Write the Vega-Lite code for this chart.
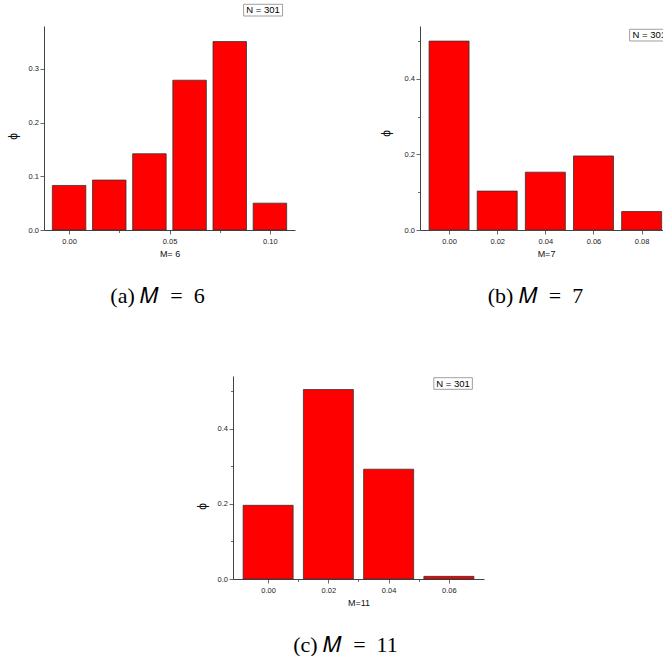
{
  "$schema": "https://vega.github.io/schema/vega-lite/v6.json",
  "background": "white",
  "padding": {"left": 6, "top": 3, "right": 0, "bottom": 0},
  "autosize": {"type": "pad"},
  "bounds": "flush",
  "spacing": 350,
  "datasets": {
    "m6": [
      {"m": 0.00, "phi": 0.083},
      {"m": 0.02, "phi": 0.093},
      {"m": 0.04, "phi": 0.142},
      {"m": 0.06, "phi": 0.279},
      {"m": 0.08, "phi": 0.351},
      {"m": 0.10, "phi": 0.050}
    ],
    "m7": [
      {"m": 0.00, "phi": 0.500},
      {"m": 0.02, "phi": 0.103},
      {"m": 0.04, "phi": 0.153},
      {"m": 0.06, "phi": 0.196},
      {"m": 0.08, "phi": 0.049}
    ],
    "m11": [
      {"m": 0.00, "phi": 0.196},
      {"m": 0.02, "phi": 0.504},
      {"m": 0.04, "phi": 0.292},
      {"m": 0.06, "phi": 0.007}
    ],
    "legend": [{"label": "N = 301"}]
  },
  "vconcat": [
    {
      "bounds": "flush",
      "spacing": 125,
      "hconcat": [
        {
          "width": 251,
          "height": 204,
          "title": {"text": "(a) 𝑀\u2002=\u20026", "orient": "bottom", "anchor": "middle", "dx": -12, "offset": 27},
          "layer": [
            {
              "data": {"name": "m6"},
              "mark": {"type": "bar", "size": 33.5, "fill": "#ff0000", "stroke": "#333333", "strokeWidth": 0.8},
              "encoding": {
                "x": {
                  "field": "m", "type": "quantitative",
                  "scale": {"domain": [-0.01, 0.11], "nice": false, "zero": false},
                  "axis": {
                    "title": "M= 6",
                    "values": [0, 0.025, 0.05, 0.075, 0.1],
                    "labelExpr": "abs(round(datum.value*20)-datum.value*20)<1e-6 ? format(datum.value, '.2f') : ''",
                    "tickSize": {"expr": "abs(round(datum.value*20)-datum.value*20)<1e-6 ? 4 : 2.5"}
                  }
                },
                "y": {
                  "field": "phi", "type": "quantitative",
                  "scale": {"domain": [0, 0.38], "nice": false},
                  "axis": {
                    "title": "ϕ",
                    "titleY": 110,
                    "values": [0, 0.05, 0.1, 0.15, 0.2, 0.25, 0.3, 0.35],
                    "labelExpr": "abs(round(datum.value*10)-datum.value*10)<1e-6 ? format(datum.value, '.1f') : ''",
                    "tickSize": {"expr": "abs(round(datum.value*10)-datum.value*10)<1e-6 ? 4 : 2.5"}
                  }
                }
              }
            },
            {
              "data": {"name": "legend"},
              "mark": {"type": "rect", "fill": "white", "stroke": "#888888", "strokeWidth": 0.8},
              "encoding": {
                "x": {"datum": 0.0869, "type": "quantitative"},
                "x2": {"datum": 0.1063},
                "y": {"datum": 0.4204, "type": "quantitative"},
                "y2": {"datum": 0.3986}
              }
            },
            {
              "data": {"name": "legend"},
              "mark": {"type": "text", "font": "Liberation Sans", "fontSize": 9.5, "color": "#000000", "align": "center", "baseline": "middle"},
              "encoding": {
                "x": {"datum": 0.0966, "type": "quantitative"},
                "y": {"datum": 0.4095, "type": "quantitative"},
                "text": {"field": "label"}
              }
            }
          ]
        },
        {
          "width": 243,
          "height": 204,
          "title": {"text": "(b) 𝑀\u2002=\u20027", "orient": "bottom", "anchor": "middle", "dx": -6, "offset": 27},
          "layer": [
            {
              "data": {"name": "m7"},
              "mark": {"type": "bar", "size": 40, "fill": "#ff0000", "stroke": "#333333", "strokeWidth": 0.8, "clip": true},
              "encoding": {
                "x": {
                  "field": "m", "type": "quantitative",
                  "scale": {"domain": [-0.01, 0.0868], "nice": false, "zero": false},
                  "axis": {
                    "title": "M=7",
                    "titleX": 126,
                    "values": [0, 0.01, 0.02, 0.03, 0.04, 0.05, 0.06, 0.07, 0.08],
                    "labelExpr": "abs(round(datum.value*50)-datum.value*50)<1e-6 ? format(datum.value, '.2f') : ''",
                    "tickSize": {"expr": "abs(round(datum.value*50)-datum.value*50)<1e-6 ? 4 : 2.5"}
                  }
                },
                "y": {
                  "field": "phi", "type": "quantitative",
                  "scale": {"domain": [0, 0.54], "nice": false},
                  "axis": {
                    "title": "ϕ",
                    "titleY": 107,
                    "titlePadding": 12,
                    "values": [0, 0.1, 0.2, 0.3, 0.4, 0.5],
                    "labelExpr": "abs(round(datum.value*5)-datum.value*5)<1e-6 ? format(datum.value, '.1f') : ''",
                    "tickSize": {"expr": "abs(round(datum.value*5)-datum.value*5)<1e-6 ? 4 : 2.5"}
                  }
                }
              }
            },
            {
              "data": {"name": "legend"},
              "mark": {"type": "rect", "fill": "white", "stroke": "#888888", "strokeWidth": 0.8, "clip": true},
              "encoding": {
                "x": {"datum": 0.075, "type": "quantitative"},
                "x2": {"datum": 0.0912},
                "y": {"datum": 0.5313, "type": "quantitative"},
                "y2": {"datum": 0.5003}
              }
            },
            {
              "data": {"name": "legend"},
              "mark": {"type": "text", "font": "Liberation Sans", "fontSize": 9.5, "color": "#000000", "align": "left", "baseline": "middle", "clip": true},
              "encoding": {
                "x": {"datum": 0.0762, "type": "quantitative"},
                "y": {"datum": 0.5158, "type": "quantitative"},
                "text": {"field": "label"}
              }
            }
          ]
        }
      ]
    },
    {
      "bounds": "flush",
      "spacing": 0,
      "hconcat": [
        {
          "width": 189,
          "height": 203,
          "data": {"values": []},
          "mark": "point"
        },
        {
          "width": 251,
          "height": 203,
          "title": {"text": "(c) 𝑀\u2002=\u200211", "orient": "bottom", "anchor": "middle", "dx": -13, "offset": 27},
          "layer": [
            {
              "data": {"name": "m11"},
              "mark": {"type": "bar", "size": 50, "fill": "#ff0000", "stroke": "#333333", "strokeWidth": 0.8},
              "encoding": {
                "x": {
                  "field": "m", "type": "quantitative",
                  "scale": {"domain": [-0.01, 0.07], "nice": false, "zero": false},
                  "axis": {
                    "title": "M=11",
                    "values": [0, 0.01, 0.02, 0.03, 0.04, 0.05, 0.06],
                    "labelExpr": "abs(round(datum.value*50)-datum.value*50)<1e-6 ? format(datum.value, '.2f') : ''",
                    "tickSize": {"expr": "abs(round(datum.value*50)-datum.value*50)<1e-6 ? 4 : 2.5"}
                  }
                },
                "y": {
                  "field": "phi", "type": "quantitative",
                  "scale": {"domain": [0, 0.54], "nice": false},
                  "axis": {
                    "title": "ϕ",
                    "titleY": 130,
                    "values": [0, 0.1, 0.2, 0.3, 0.4, 0.5],
                    "labelExpr": "abs(round(datum.value*5)-datum.value*5)<1e-6 ? format(datum.value, '.1f') : ''",
                    "tickSize": {"expr": "abs(round(datum.value*5)-datum.value*5)<1e-6 ? 4 : 2.5"}
                  }
                }
              }
            },
            {
              "data": {"name": "legend"},
              "mark": {"type": "rect", "fill": "white", "stroke": "#888888", "strokeWidth": 0.8},
              "encoding": {
                "x": {"datum": 0.055, "type": "quantitative"},
                "x2": {"datum": 0.0678},
                "y": {"datum": 0.5355, "type": "quantitative"},
                "y2": {"datum": 0.5046}
              }
            },
            {
              "data": {"name": "legend"},
              "mark": {"type": "text", "font": "Liberation Sans", "fontSize": 9.5, "color": "#000000", "align": "center", "baseline": "middle"},
              "encoding": {
                "x": {"datum": 0.0614, "type": "quantitative"},
                "y": {"datum": 0.52, "type": "quantitative"},
                "text": {"field": "label"}
              }
            }
          ]
        }
      ]
    }
  ],
  "config": {
    "view": {"stroke": null},
    "axis": {
      "grid": false,
      "domainColor": "#444444",
      "domainWidth": 1,
      "tickColor": "#444444",
      "tickWidth": 0.8,
      "labelFont": "Liberation Sans",
      "labelFontSize": 7.5,
      "labelColor": "#222222",
      "titleFont": "Liberation Sans",
      "titleFontWeight": "normal",
      "titleColor": "#111111"
    },
    "axisX": {"labelPadding": 3, "titlePadding": 5, "titleFontSize": 9, "labelAngle": 0},
    "axisY": {"labelPadding": 1.5, "titlePadding": 9, "titleFontSize": 12},
    "title": {"font": "Liberation Serif", "fontSize": 22, "fontWeight": "normal", "color": "#000000"}
  }
}
